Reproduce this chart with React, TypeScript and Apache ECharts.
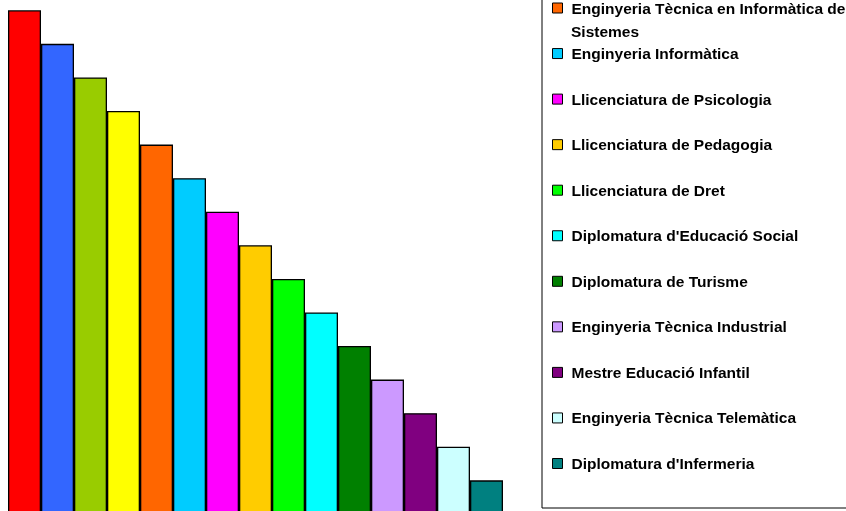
import React, { useEffect, useRef } from "react";
import * as echarts from "echarts";

const categories = [
  "Titulació 1",
  "Titulació 2",
  "Titulació 3",
  "Titulació 4",
  "Enginyeria Tècnica en Informàtica de Sistemes",
  "Enginyeria Informàtica",
  "Llicenciatura de Psicologia",
  "Llicenciatura de Pedagogia",
  "Llicenciatura de Dret",
  "Diplomatura d'Educació Social",
  "Diplomatura de Turisme",
  "Enginyeria Tècnica Industrial",
  "Mestre Educació Infantil",
  "Enginyeria Tècnica Telemàtica",
  "Diplomatura d'Infermeria",
];

const values = [15, 14, 13, 12, 11, 10, 9, 8, 7, 6, 5, 4, 3, 2, 1];

const colors = [
  "#FF0000",
  "#3366FF",
  "#99CC00",
  "#FFFF00",
  "#FF6600",
  "#00CCFF",
  "#FF00FF",
  "#FFCC00",
  "#00FF00",
  "#00FFFF",
  "#008000",
  "#CC99FF",
  "#800080",
  "#CCFFFF",
  "#008080",
];

const legendNames = categories.slice(4);
const LONG_NAME = "Enginyeria Tècnica en Informàtica de Sistemes";

const OFFSET = 200;
const FONT = "'Liberation Sans', Arial, sans-serif";

export default function App() {
  const ref = useRef<HTMLDivElement>(null);

  useEffect(() => {
    if (!ref.current) return;
    const chart = echarts.init(ref.current, null, { renderer: "svg" });
    const series = categories.map((name, i) => ({
      type: "bar",
      name,
      stack: "all",
      barWidth: "100%",
      data: categories.map((_, j) => (j === i ? values[i] : "-")),
      itemStyle: { color: colors[i], borderColor: "#000", borderWidth: 1.3 },
    }));
    chart.setOption({
      animation: false,
      grid: { left: 8, width: 495, top: 210.3, bottom: 6.1, containLabel: false },
      xAxis: {
        type: "category",
        data: categories,
        show: false,
      },
      yAxis: { type: "value", min: 0, max: 15, show: false },
      legend: {
        orient: "vertical",
        left: 542,
        top: OFFSET - 30,
        padding: [30, 40, 36.5, 10],
        data: legendNames,
        selectedMode: false,
        icon: "rect",
        itemWidth: 10,
        itemHeight: 10,
        itemGap: 29.55,
        borderColor: "#000",
        borderWidth: 1,
        itemStyle: { borderColor: "#000", borderWidth: 1 },
        formatter: (n: string) => (n === LONG_NAME ? "Enginyeria Tècnica en Informàtica de" : n),
        textStyle: {
          fontSize: 15.5,
          fontWeight: "bold",
          fontFamily: FONT,
          color: "#000",
          lineHeight: 16,
          padding: [0, 0, 0, 4],
        },
      },
      graphic: [
        {
          type: "text",
          x: 571,
          y: OFFSET + 31,
          style: {
            text: "Sistemes",
            font: `bold 15.5px ${FONT}`,
            fill: "#000",
            verticalAlign: "middle",
            textVerticalAlign: "middle",
          },
        },
      ],
      series,
    });
    return () => chart.dispose();
  }, []);

  return (
    <div
      ref={ref}
      style={{ position: "fixed", left: 0, top: -OFFSET, width: 846, height: 720 }}
    />
  );
}
